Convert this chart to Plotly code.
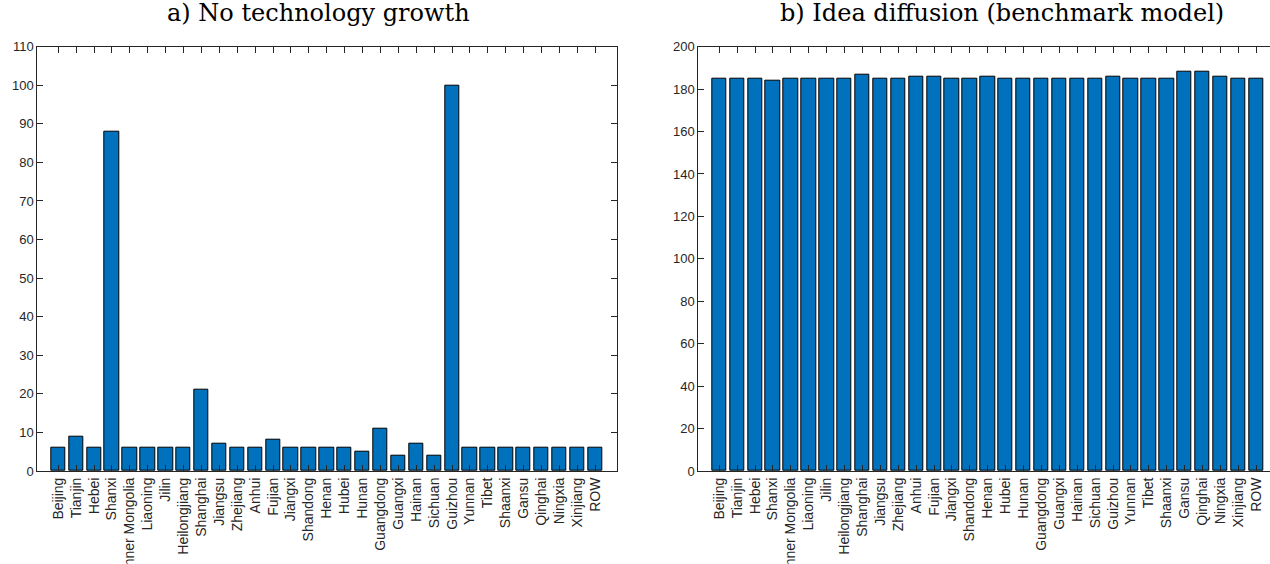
import plotly.graph_objects as go

regions = ["Beijing", "Tianjin", "Hebei", "Shanxi", "Inner Mongolia", "Liaoning",
           "Jilin", "Heilongjiang", "Shanghai", "Jiangsu", "Zhejiang", "Anhui",
           "Fujian", "Jiangxi", "Shandong", "Henan", "Hubei", "Hunan", "Guangdong",
           "Guangxi", "Hainan", "Sichuan", "Guizhou", "Yunnan", "Tibet", "Shaanxi",
           "Gansu", "Qinghai", "Ningxia", "Xinjiang", "ROW"]

no_growth = [6, 9, 6, 88, 6, 6, 6, 6, 21, 7, 6, 6, 8, 6, 6, 6, 6, 5, 11, 4, 7, 4,
             100, 6, 6, 6, 6, 6, 6, 6, 6]

idea_diffusion = [185, 185, 185, 184, 185, 185, 185, 185, 187, 185, 185, 186, 186,
                  185, 185, 186, 185, 185, 185, 185, 185, 185, 186, 185, 185, 185,
                  188, 188, 186, 185, 185]

left_ticks = list(range(0, 111, 10))
right_ticks = list(range(0, 201, 20))

titles = ["a) No technology growth", "b) Idea diffusion (benchmark model)"]

BAR = "#0072BD"
AX = "#262626"
W, H = 1270, 564

fig = go.Figure()
fig.add_trace(go.Bar(x=list(range(len(regions))), y=no_growth, width=0.8,
                     marker=dict(color=BAR, line=dict(color="black", width=1)),
                     xaxis="x", yaxis="y", showlegend=False))
fig.add_trace(go.Bar(x=list(range(len(regions))), y=idea_diffusion, width=0.8,
                     marker=dict(color=BAR, line=dict(color="black", width=1)),
                     xaxis="x2", yaxis="y2", showlegend=False))

y0, y1 = 1 - 471 / H, 1 - 46.7 / H
ytick_font = dict(family="Liberation Sans, Arial, sans-serif", size=13, color=AX)
xtick_font = dict(family="Liberation Sans, Arial, sans-serif", size=14, color=AX)

common_x = dict(tickmode="array", tickvals=list(range(len(regions))), ticktext=regions,
                tickangle=-90, ticks="inside", ticklen=6, tickcolor=AX,
                showline=True, linecolor=AX, linewidth=1, showgrid=False,
                zeroline=False, tickfont=xtick_font, automargin=False)
common_y = dict(ticks="inside", ticklen=6, tickcolor=AX, showline=True, linecolor=AX,
                linewidth=1, showgrid=False, zeroline=False, tickfont=ytick_font,
                automargin=False)

fig.update_layout(
    width=W, height=H,
    margin=dict(l=0, r=0, t=0, b=0),
    paper_bgcolor="white", plot_bgcolor="white",
    bargap=0,
    xaxis=dict(domain=[37.3 / W, 616.7 / W], range=[-1.17, 31.2], mirror="allticks",
               anchor="y", **common_x),
    yaxis=dict(domain=[y0, y1], range=[0, 110], tickvals=left_ticks, mirror="allticks",
               anchor="x", **common_y),
    xaxis2=dict(domain=[698.3 / W, 1.0], range=[-1.17, 30.77], mirror="allticks",
                anchor="y2", **common_x),
    yaxis2=dict(domain=[y0, y1], range=[0, 200], tickvals=right_ticks,
                anchor="x2", **common_y),
    annotations=[
        dict(text=titles[0], x=318 / W, y=1 - 13 / H, xref="paper", yref="paper",
             showarrow=False, xanchor="center", yanchor="middle",
             font=dict(family="DejaVu Serif, serif", size=24, color="black")),
        dict(text=titles[1], x=1002 / W, y=1 - 13 / H, xref="paper", yref="paper",
             showarrow=False, xanchor="center", yanchor="middle",
             font=dict(family="DejaVu Serif, serif", size=24, color="black")),
    ],
)

fig.write_html("out.html")
